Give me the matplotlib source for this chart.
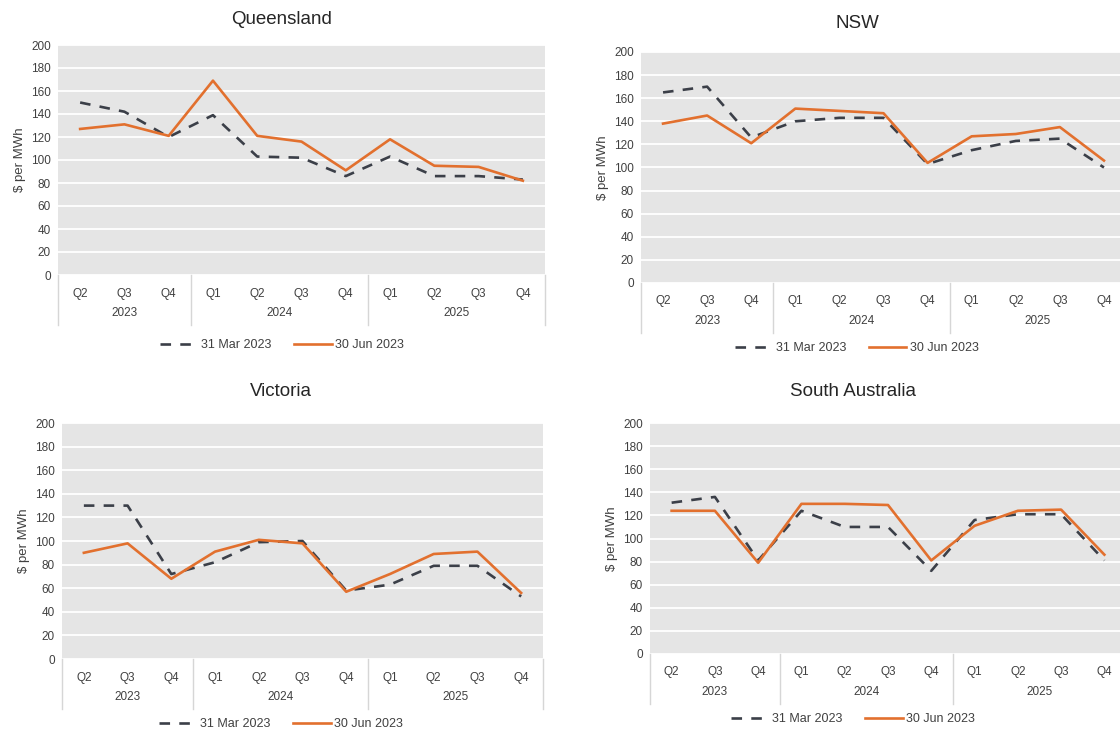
import numpy as np
import matplotlib
matplotlib.use('Agg')
import matplotlib.pyplot as plt
from matplotlib.transforms import offset_copy

plt.rcParams['font.family'] = ['Liberation Sans', 'DejaVu Sans']

# etichette dell'asse delle categorie
trimestri = ['Q2', 'Q3', 'Q4', 'Q1', 'Q2', 'Q3', 'Q4', 'Q1', 'Q2', 'Q3', 'Q4']
anni = ['2023', '2024', '2025']
gruppi_anni = [[0, 1, 2], [3, 4, 5, 6], [7, 8, 9, 10]]
serie = ['31 Mar 2023', '30 Jun 2023']

# prezzi ($ per MWh) per regione
qld_mar = [150, 142, 120, 139, 103, 102, 86, 103, 86, 86, 83]
qld_jun = [127, 131, 121, 169, 121, 116, 91, 118, 95, 94, 82]
nsw_mar = [165, 170, 126, 140, 143, 143, 103, 115, 123, 125, 100]
nsw_jun = [138, 145, 121, 151, 149, 147, 104, 127, 129, 135, 106]
vic_mar = [130, 130, 72, 82, 99, 100, 58, 63, 79, 79, 53]
vic_jun = [90, 98, 68, 91, 101, 98, 57, 72, 89, 91, 56]
sa_mar = [131, 136, 81, 124, 110, 110, 72, 116, 121, 121, 81]
sa_jun = [124, 124, 79, 130, 130, 129, 81, 111, 124, 125, 86]

W, H = 1120, 733
fig = plt.figure(figsize=(W / 100, H / 100), dpi=100)

col_scuro = '#3b3f48'
col_arancio = '#e2702e'
col_sfondo = '#e5e5e5'
col_sep = '#d6d6d6'
col_testo = '#404040'

# (titolo, dati, riquadro in pixel: sinistra, alto, destra, basso, centro titolo/legenda)
pannelli = [
    ('Queensland', qld_mar, qld_jun, (58, 45, 545, 275), 282, 20, 345),
    ('NSW', nsw_mar, nsw_jun, (641, 52, 1126, 283), 857, 23, 348),
    ('Victoria', vic_mar, vic_jun, (62, 423, 543, 659), 281, 391, 724),
    ('South Australia', sa_mar, sa_jun, (650, 423, 1126, 654), 853, 391, 719),
]

for titolo, y1, y2, box, xc, yt, yleg in pannelli:
    l, t, r, b = box
    ax = fig.add_axes([l / W, 1 - b / H, (r - l) / W, (b - t) / H])
    ax.set_facecolor(col_sfondo)
    x = np.arange(len(trimestri))
    l1, = ax.plot(x, y1, color=col_scuro, lw=1.9, dashes=(4, 3.5), label=serie[0])
    l2, = ax.plot(x, y2, color=col_arancio, lw=1.9, label=serie[1])
    ax.set_xlim(-0.5, 10.5)
    ax.set_ylim(0, 200)
    ax.set_yticks(np.arange(0, 201, 20))
    ax.yaxis.grid(True, color='white', lw=1.3)
    ax.set_axisbelow(True)
    for s in ax.spines.values():
        s.set_visible(False)
    ax.tick_params(axis='y', length=0, labelsize=8.5, labelcolor=col_testo, pad=5)
    ax.set_xticks(x)
    ax.set_xticklabels(trimestri)
    ax.tick_params(axis='x', length=0, labelsize=8.5, labelcolor=col_testo, pad=9)
    ax.set_ylabel('$ per MWh', fontsize=9.5, color=col_testo, labelpad=4)

    # etichette degli anni e separatori
    trans = ax.get_xaxis_transform()
    for anno, g in zip(anni, gruppi_anni):
        ax.text(np.mean(g), 0, anno, fontsize=8.5, color=col_testo, ha='center', va='center',
                transform=offset_copy(trans, fig=fig, y=-38, units='dots'))
    bordi = [-0.5] + [g[-1] + 0.5 for g in gruppi_anni]
    hband = 50 / (b - t)
    for xb in bordi:
        ax.plot([xb, xb], [0, -hband], color=col_sep, lw=1, transform=trans, clip_on=False)

    fig.text(xc / W, 1 - yt / H, titolo, fontsize=13.5, color='#262626', ha='center', va='center')
    fig.legend(handles=[l1, l2], loc='center', bbox_to_anchor=(xc / W, 1 - yleg / H),
               ncol=2, frameon=False, fontsize=9, handlelength=3.0, handletextpad=0.3,
               columnspacing=1.8, labelcolor=col_testo)

fig.savefig('out.png', dpi=100)
